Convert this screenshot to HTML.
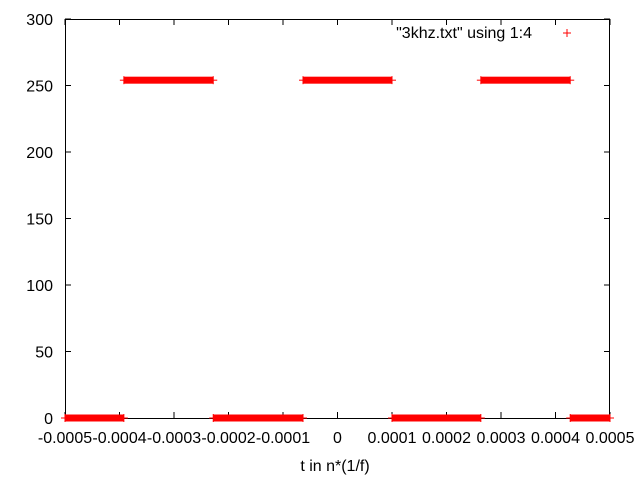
<!DOCTYPE html>
<html><head><meta charset="utf-8"><style>
body{margin:0;background:#fff}
svg{display:block;font-family:"Liberation Sans",sans-serif;font-size:16px}
</style></head><body>
<svg id="c" width="640" height="480"></svg>
<script>
const segStart=[-0.0005,-0.000392,-0.000228,-0.0000633,0.0001,0.000263,0.000427];
const segEnd=[-0.000392,-0.000228,-0.0000633,0.0001,0.000263,0.000427,0.0005];
const segValue=[0,254,0,254,0,254,0];
const xTicks=[-0.0005,-0.0004,-0.0003,-0.0002,-0.0001,0,0.0001,0.0002,0.0003,0.0004,0.0005];
const xTickLabels=["-0.0005","-0.0004","-0.0003","-0.0002","-0.0001","0","0.0001","0.0002","0.0003","0.0004","0.0005"];
const yTicks=[0,50,100,150,200,250,300];
const L=65,R=610,T=19,B=418;
const xs=v=>L+(v+0.0005)/0.001*(R-L);
const ys=v=>B-v/300*(B-T);
const svg=document.getElementById('c');
const NS='http://www.w3.org/2000/svg';
function mk(t,a,p){const e=document.createElementNS(NS,t);for(const k in a)e.setAttribute(k,a[k]);(p||svg).appendChild(e);return e;}
const ax=mk('g',{});


yTicks.forEach(v=>{
 const y=ys(v);
 mk('line',{x1:L,x2:L+6,y1:y,y2:y,stroke:'#000'},ax);
 mk('line',{x1:R,x2:R-6,y1:y,y2:y,stroke:'#000'},ax);
 const t=mk('text',{x:L-12,y:y+6,'text-anchor':'end'},ax);t.textContent=v;
 
 
});
xTicks.forEach((v,i)=>{
 const x=xs(v);
 mk('line',{x1:x,x2:x,y1:B,y2:B-6,stroke:'#000'},ax);
 mk('line',{x1:x,x2:x,y1:T,y2:T+6,stroke:'#000'},ax);
 const t=mk('text',{x:x,y:443,'text-anchor':'middle'},ax);t.textContent=xTickLabels[i];
 
 
});
mk('rect',{x:L+0.5,y:T+0.5,width:R-L-1,height:B-T,fill:'none',stroke:'#000'},ax);
const xt=mk('text',{x:335,y:471,'text-anchor':'middle'});xt.textContent='t in n*(1/f)';


const lg=mk('text',{x:532,y:38,'text-anchor':'end'});lg.textContent='"3khz.txt" using 1:4';


const lm=mk('g',{stroke:'#f00','stroke-width':1});


mk('line',{x1:563,x2:571,y1:33,y2:33},lm);mk('line',{x1:567,x2:567,y1:29,y2:37},lm);
const sg=mk('g',{});


segValue.forEach((v,i)=>{
 const x1=xs(segStart[i]),x2=xs(segEnd[i]),y=ys(v);
 const r=mk('rect',{x:x1,y:y-3.5,width:x2-x1,height:7,fill:'#f00'},sg);
 
 
 [x1,x2].forEach(x=>{mk('line',{x1:x-4,x2:x+4,y1:y,y2:y,stroke:'#f00'},sg);mk('line',{x1:x,x2:x,y1:y-4,y2:y+4,stroke:'#f00'},sg);});
});
</script>
</body></html>
